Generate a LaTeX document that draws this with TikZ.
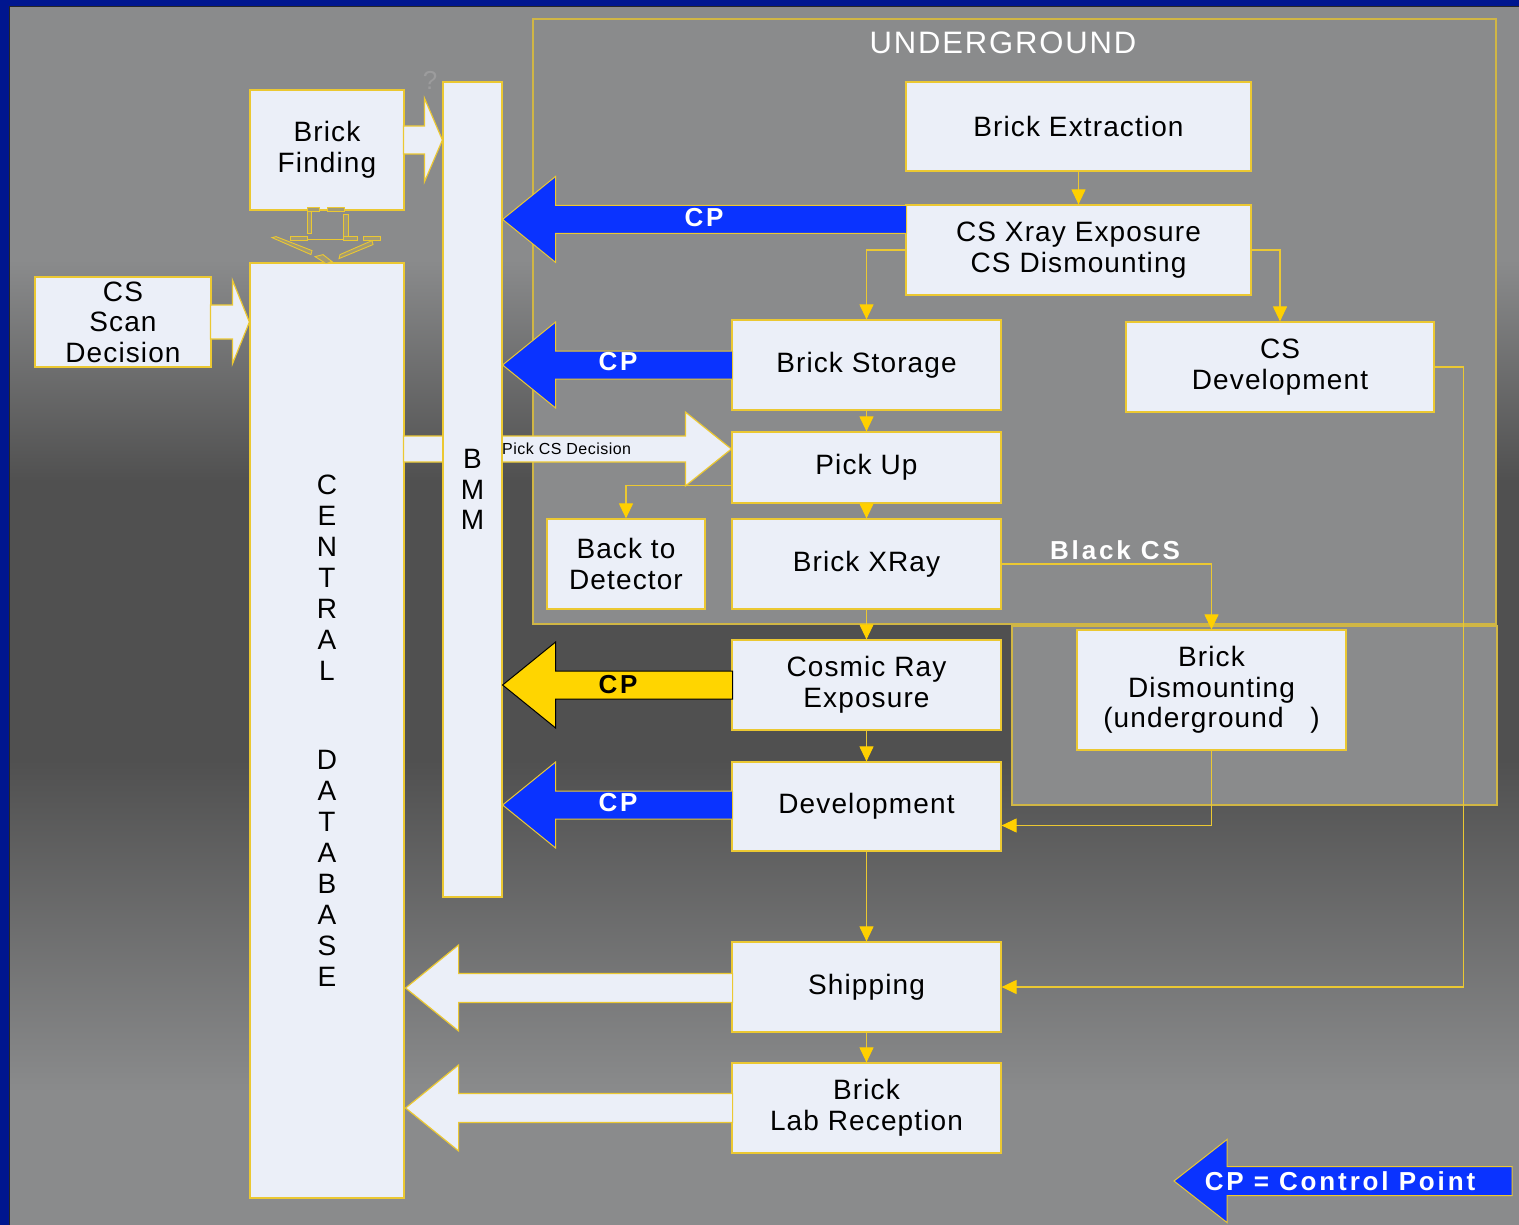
\documentclass[tikz,border=0pt]{standalone}
\usepackage{fontspec}
\setmainfont{Liberation Sans}
\newfontfamily\boxfont{Liberation Sans}[LetterSpace=4]
\newfontfamily\cpfont{Liberation Sans}[LetterSpace=11]
\newfontfamily\ugfont{Liberation Sans}[LetterSpace=6]
\newfontfamily\smallfont{Liberation Sans}[LetterSpace=3]
\usetikzlibrary{arrows.meta,calc}

\definecolor{frameblue}{HTML}{00168F}
\definecolor{bgA}{HTML}{8A8B8C}
\definecolor{bgB}{HTML}{505050}
\definecolor{boxfill}{HTML}{EBEFF8}
\definecolor{ylw}{HTML}{EBC832}
\definecolor{ylwhead}{HTML}{FFD000}
\definecolor{cpblue}{HTML}{0A33FF}
\definecolor{cpyellow}{HTML}{FFD500}

\newcommand\lblock[6]{% tip, length, shaft half, head half, head length, style
  \filldraw[#6] (#1) -- ++(#5,-#4) -- ++(0,{#4-#3}) -- ++({#2-#5},0) -- ++(0,{2*#3}) -- ++({#5-#2},0) -- ++(0,{#4-#3}) -- cycle;}
\newcommand\rblock[6]{% tip pointing right
  \filldraw[#6] (#1) -- ++(-#5,-#4) -- ++(0,{#4-#3}) -- ++({#5-#2},0) -- ++(0,{2*#3}) -- ++({#2-#5},0) -- ++(0,{#4-#3}) -- cycle;}

\tikzset{
  box/.style={draw=ylw, line width=1.2pt, fill=boxfill, inner sep=0pt, align=center,
    font=\boxfont\fontsize{28}{30.5}\selectfont, text=black},
  conn/.style={draw=ylw, line width=1.1pt, -{Triangle[length=15pt,width=14pt,color=ylwhead]}},
  ugframe/.style={fill=bgA, draw=ylw!75!gray, line width=1.2pt},
  cpblock/.style={fill=cpblue, draw=ylw, line width=1pt},
  cpyblock/.style={fill=cpyellow, draw=black, line width=1pt},
  wblock/.style={fill=boxfill, draw=ylw, line width=1.2pt},
  cplabel/.style={font=\cpfont\bfseries\fontsize{26}{28}\selectfont, text=white},
  brokenpart/.style={draw=ylw, line width=0.9pt, fill=ylw!25!bgA}
}

\begin{document}
\begin{tikzpicture}[x=1pt,y=-1pt]
\useasboundingbox (0,0) rectangle (1519,1225);
% background
\fill[frameblue] (0,0) rectangle (1519,1225);
\fill[bgA] (10,7) rectangle (1519,262);
\shade[top color=bgA,bottom color=bgB] (10,260) rectangle (1519,482);
\fill[bgB] (10,480) rectangle (1519,762);
\shade[top color=bgB,bottom color=bgA] (10,760) rectangle (1519,1092);
\fill[bgA] (10,1090) rectangle (1519,1225);
\draw[black!85, line width=1pt] (9.5,1225) -- (9.5,6.5) -- (1519,6.5);

% underground area
\draw[ugframe] (533,19) rectangle (1496,624);
\draw[ugframe] (1012,626) rectangle (1497,805);
\node[text=white, font=\ugfont\fontsize{31}{34}\selectfont] (ug) at (1003,43) {UNDERGROUND};
\node[text=bgA!85!white, font=\fontsize{26}{30}\selectfont] (qm) at (430,80) {?};

% boxes
\node[box, minimum width=154, minimum height=120] (bf) at (327,150) {Brick\\Finding};
\node[box, minimum width=154, minimum height=935, font=\boxfont\fontsize{28}{31}\selectfont] (cdb) at (327,730.5)
  {C\\E\\N\\T\\R\\A\\L\\[58pt]D\\A\\T\\A\\B\\A\\S\\E};
\node[box, minimum width=176, minimum height=90] (scan) at (123,322) {CS\\Scan\\Decision};
\node[box, minimum width=345, minimum height=89] (ext) at (1078.5,126.5) {Brick Extraction};
\node[box, minimum width=345, minimum height=90] (xray) at (1078.5,250) {CS Xray Exposure\\CS Dismounting};
\node[box, minimum width=269, minimum height=90] (storage) at (866.5,365) {Brick Storage};
\node[box, minimum width=308, minimum height=90] (csdev) at (1280,367) {CS\\Development};
\node[box, minimum width=269, minimum height=71] (pick) at (866.5,467.5) {Pick Up};
\node[box, minimum width=158, minimum height=90] (back) at (626,564) {Back to\\Detector};
\node[box, minimum width=269, minimum height=90] (bxray) at (866.5,564) {Brick XRay};
\node[box, minimum width=269, minimum height=90] (cosmic) at (866.5,685) {Cosmic Ray\\Exposure};
\node[box, minimum width=269, minimum height=120] (dism) at (1211.5,690) {Brick\\Dismounting\\(underground\ \ \ )};
\node[box, minimum width=269, minimum height=89] (dev) at (866.5,806.5) {Development};
\node[box, minimum width=269, minimum height=90] (ship) at (866.5,987) {Shipping};
\node[box, minimum width=269, minimum height=90] (lab) at (866.5,1108) {Brick\\Lab Reception};

% Pick CS Decision arrow (passes behind BMM)
\coordinate (pcTip) at ($(pick.west)+(0,-18.5)$);
\rblock{pcTip}{328}{13}{37}{46}{wblock}

% BMM
\node[box, minimum width=59, minimum height=815] (bmm) at (472.5,489.5) {B\\M\\M};
\node[anchor=west, inner sep=0pt, font=\smallfont\fontsize{16}{18}\selectfont, text=black] (pcs) at (502,448.5) {Pick CS Decision};

% thin connectors
\draw[conn] (ext.south) -- (xray.north);
\draw[conn] (xray.west) -| (storage.north);
\draw[conn] (xray.east) -| (csdev.north);
\draw[conn] (storage.south) -- (pick.north);
\draw[conn] (pick.south) -- (bxray.north);
\draw[conn] ($(pick.west)+(0,18)$) -| (back.north);
\draw[conn] (bxray.south) -- (cosmic.north);
\draw[conn] (bxray.east) -| (dism.north);
\node[cplabel] (blackcs) at (1115,550) {Black CS};
\draw[conn] (cosmic.south) -- (dev.north);
\draw[conn] (dism.south) |- ($(dev.east)+(0,19)$);
\draw[conn] (dev.south) -- (ship.north);
\draw[conn] (csdev.east) -- ++(29,0) |- (ship.east);
\draw[conn] (ship.south) -- (lab.north);

% block arrows
\coordinate (bfTip) at ($(bmm.west |- bf.east)+(0,-10)$);
\rblock{bfTip}{39}{14}{42}{18}{wblock}
\coordinate (scTip) at (cdb.west |- scan.east);
\rblock{scTip}{39}{17}{42}{17}{wblock}

\coordinate (cpaTip) at ($(bmm.east |- xray.north)+(0,15)$);
\lblock{cpaTip}{404}{14}{43}{53}{cpblock}
\node[cplabel] (cpa) at (704,218) {CP};
\coordinate (cpbTip) at (bmm.east |- storage.west);
\lblock{cpbTip}{230}{14}{43}{53}{cpblock}
\node[cplabel] (cpb) at (618,362) {CP};
\coordinate (cpcTip) at (bmm.east |- cosmic.west);
\lblock{cpcTip}{230}{14}{43}{53}{cpyblock}
\node[cplabel, text=black] (cpc) at (618,685) {CP};
\coordinate (cpdTip) at ($(bmm.east |- dev.west)+(0,-1.5)$);
\lblock{cpdTip}{230}{14}{43}{53}{cpblock}
\node[cplabel] (cpd) at (618,803) {CP};

\coordinate (shTip) at ($(cdb.east |- ship.west)+(1,1)$);
\lblock{shTip}{327}{14.5}{43}{53}{wblock}
\coordinate (lbTip) at ($(cdb.east |- lab.west)+(1,0)$);
\lblock{lbTip}{327}{14.5}{43}{53}{wblock}

% broken arrow Brick Finding -> Central Database
\begin{scope}[shift={(bf.south)}]
  \draw[brokenpart] (-20,-3) rectangle (-8,1);
  \draw[brokenpart] (0,-3) rectangle (17,1);
  \draw[brokenpart] (-20,1) rectangle (-16,23);
  \draw[brokenpart] (16,4) rectangle (21,30);
  \draw[ylw, line width=0.6pt] (-20,29) -- (16,29);
  \draw[brokenpart] (-37,26) rectangle (-20,30);
  \draw[brokenpart] (16,26) rectangle (30,30);
  \draw[brokenpart] (36,26) rectangle (53,30);
  \draw[brokenpart] (-55,27) -- (-51,26) -- (-15,40) -- (-16,44) -- cycle;
  \draw[brokenpart] (13,44) -- (45,30) -- (46,34) -- (12,48) -- cycle;
  \draw[brokenpart] (-12,46) -- (-4,44) -- (5,51) -- (-1,53) -- cycle;
\end{scope}

% legend
\coordinate (lgTip) at (1174,1181);
\lblock{lgTip}{338}{14.5}{41.5}{53}{cpblock}
\node[cplabel] (lg) at (1340,1181) {CP = Control Point};
\end{tikzpicture}
\end{document}
